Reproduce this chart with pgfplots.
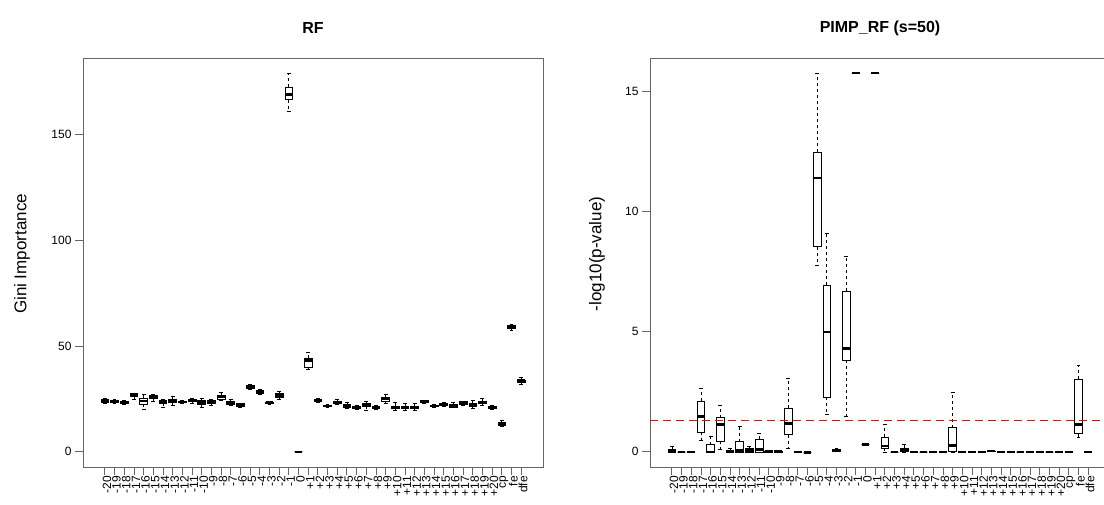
\documentclass[border=0pt]{standalone}
\usepackage{fontspec}
\setmainfont{Liberation Sans}
\usepackage{pgfplots}
\pgfplotsset{compat=1.18}
\usepgfplotslibrary{statistics}

\definecolor{framegray}{gray}{0.4}

\pgfplotsset{
  bplt/.style={black, line width=0.7pt, solid,
    boxplot/draw direction=y,
    boxplot/box extend=0.8,
    boxplot/whisker extend=0.4,
    boxplot/every median/.style={line width=2.6pt},
    boxplot/draw/whisker/.code 2 args={
      \draw[black, line width=0.7pt, dash pattern=on 3pt off 3pt]
        (boxplot cs:##1) -- (boxplot cs:##2);
      \draw[black, line width=0.7pt]
        (boxplot whisker cs:##2,0) -- (boxplot whisker cs:##2,1);
    },
  },
  panel/.style={
    scale only axis, width=460pt, height=409pt, anchor=south west,
    xmin=-1.26, xmax=46.26,
    axis line style={framegray, line width=0.8pt},
    tick style={framegray, line width=0.8pt},
    tick align=outside, major tick length=8pt,
    xtick pos=bottom, ytick pos=left,
    xtick={1,...,44},
    xticklabels={-20,-19,-18,-17,-16,-15,-14,-13,-12,-11,-10,-9,-8,-7,-6,-5,-4,-3,-2,-1,0,+1,+2,+3,+4,+5,+6,+7,+8,+9,+10,+11,+12,+13,+14,+15,+16,+17,+18,+19,+20,cp,fe,dfe},
    x tick label style={rotate=90, anchor=east, font=\fontsize{12}{12}\selectfont, inner sep=1pt, yshift=-2pt},
    y tick label style={font=\fontsize{12}{12}\selectfont},
    /pgf/number format/assume math mode=true,
  },
}

% draw position, median, lower quartile, upper quartile, lower whisker, upper whisker
\newcommand{\bx}[6]{\addplot[bplt, boxplot prepared={draw position=#1, median=#2,
  lower quartile=#3, upper quartile=#4, lower whisker=#5, upper whisker=#6}] coordinates {};}

\begin{document}
\begin{tikzpicture}[x=1pt,y=1pt]
\path[use as bounding box] (0,0) rectangle (1104,504);

% ---- RF ----
\begin{axis}[panel, at={(83pt,37pt)}, ymin=-7.16, ymax=186.06, ytick={0,50,100,150}]
\bx{1}{24.3}{23.6}{24.8}{23.0}{25.2}
\bx{2}{24.0}{23.4}{24.5}{22.8}{24.9}
\bx{3}{23.6}{23.1}{24.0}{22.6}{24.4}
\bx{4}{26.9}{26.3}{27.4}{25.0}{27.8}
\bx{5}{24.0}{22.5}{25.5}{20.2}{27.0}
\bx{6}{26.2}{25.3}{26.9}{24.0}{27.3}
\bx{7}{23.5}{23.0}{24.2}{21.0}{25.0}
\bx{8}{24.2}{23.3}{25.0}{22.2}{26.2}
\bx{9}{23.6}{23.2}{24.0}{22.8}{24.4}
\bx{10}{24.3}{23.8}{24.7}{23.0}{25.3}
\bx{11}{23.3}{22.6}{24.1}{20.9}{25.5}
\bx{12}{23.6}{22.9}{24.1}{22.2}{24.8}
\bx{13}{26.0}{25.0}{26.8}{24.4}{28.0}
\bx{14}{23.2}{22.6}{23.9}{22.0}{24.6}
\bx{15}{22.2}{21.7}{22.7}{21.2}{23.0}
\bx{16}{30.6}{30.0}{31.2}{29.4}{31.9}
\bx{17}{28.4}{27.6}{29.0}{27.0}{29.5}
\bx{18}{23.2}{22.8}{23.6}{22.4}{23.9}
\bx{19}{26.6}{25.8}{27.4}{24.8}{28.5}
\bx{20}{168.7}{166.3}{172.3}{160.8}{178.9}
\bx{21}{0}{0}{0}{0}{0}
\bx{22}{43.2}{39.8}{44.4}{39.0}{47.0}
\bx{23}{24.5}{23.9}{25.0}{23.4}{25.4}
\bx{24}{21.7}{21.3}{22.1}{20.9}{22.4}
\bx{25}{23.4}{22.9}{23.8}{22.4}{25.0}
\bx{26}{21.8}{21.0}{22.6}{20.6}{23.2}
\bx{27}{21.1}{20.7}{21.5}{20.3}{22.0}
\bx{28}{22.3}{21.5}{23.0}{19.8}{24.0}
\bx{29}{21.1}{20.7}{21.5}{20.3}{21.8}
\bx{30}{25.0}{24.0}{25.8}{22.8}{27.0}
\bx{31}{21.1}{20.7}{21.5}{19.7}{23.5}
\bx{32}{21.0}{20.6}{21.5}{19.5}{23.0}
\bx{33}{21.1}{20.7}{21.6}{19.5}{23.0}
\bx{34}{23.7}{23.2}{24.1}{22.8}{24.5}
\bx{35}{21.7}{21.3}{22.0}{21.0}{22.3}
\bx{36}{22.5}{22.0}{23.0}{21.5}{23.4}
\bx{37}{21.8}{21.2}{22.4}{20.8}{23.3}
\bx{38}{23.2}{22.3}{23.7}{21.8}{24.0}
\bx{39}{22.0}{21.5}{23.0}{20.6}{24.3}
\bx{40}{23.4}{22.9}{23.8}{22.1}{25.1}
\bx{41}{21.0}{20.6}{21.3}{20.0}{21.8}
\bx{42}{13.0}{12.4}{14.0}{12.0}{14.8}
\bx{43}{58.8}{58.2}{59.6}{57.6}{60.0}
\bx{44}{33.6}{33.0}{34.0}{31.9}{35.0}
\end{axis}

% ---- PIMP_RF ----
\begin{axis}[panel, at={(650pt,37pt)}, ymin=-0.63, ymax=16.39, ytick={0,5,10,15}]
\bx{1}{0.02}{0}{0.1}{0}{0.22}
\bx{2}{0}{0}{0}{0}{0}
\bx{3}{0}{0}{0}{0}{0}
\bx{4}{1.46}{0.83}{2.11}{0.47}{2.64}
\bx{5}{0}{0}{0.3}{0}{0.64}
\bx{6}{1.14}{0.45}{1.42}{0.1}{1.93}
\bx{7}{0.02}{0}{0.05}{0}{0.14}
\bx{8}{0.05}{0}{0.43}{0}{1.07}
\bx{9}{0.05}{0}{0.14}{0}{0.24}
\bx{10}{0.1}{0}{0.52}{0}{0.79}
\bx{11}{0.02}{0}{0.03}{0}{0.04}
\bx{12}{0.02}{0}{0.03}{0}{0.04}
\bx{13}{1.18}{0.72}{1.83}{0.14}{3.04}
\bx{14}{0}{0}{0}{0}{0}
\bx{15}{-0.02}{-0.02}{-0.02}{-0.02}{-0.02}
\bx{16}{11.4}{8.54}{12.46}{7.76}{15.76}
\bx{17}{4.99}{2.28}{6.93}{1.56}{9.1}
\bx{18}{0.08}{0.04}{0.12}{0.02}{0.15}
\bx{19}{4.3}{3.82}{6.70}{1.49}{8.13}
\bx{20}{15.76}{15.76}{15.76}{15.76}{15.76}
\bx{21}{0.3}{0.3}{0.3}{0.3}{0.3}
\bx{22}{15.76}{15.76}{15.76}{15.76}{15.76}
\bx{23}{0.24}{0.14}{0.6}{0}{1.14}
\bx{24}{0}{0}{0}{0}{0}
\bx{25}{0.09}{0.02}{0.16}{0}{0.3}
\bx{26}{0}{0}{0}{0}{0}
\bx{27}{0}{0}{0}{0}{0}
\bx{28}{0}{0}{0}{0}{0}
\bx{29}{0}{0}{0}{0}{0}
\bx{30}{0.26}{0.03}{1.0}{0}{2.46}
\bx{31}{0}{0}{0}{0}{0}
\bx{32}{0}{0}{0}{0}{0}
\bx{33}{0}{0}{0}{0}{0}
\bx{34}{0.03}{0.02}{0.04}{0.02}{0.04}
\bx{35}{0}{0}{0}{0}{0}
\bx{36}{0}{0}{0}{0}{0}
\bx{37}{0}{0}{0}{0}{0}
\bx{38}{0}{0}{0}{0}{0}
\bx{39}{0}{0}{0}{0}{0}
\bx{40}{0}{0}{0}{0}{0}
\bx{41}{0}{0}{0}{0}{0}
\bx{42}{0}{0}{0}{0}{0}
\bx{43}{1.14}{0.75}{3.02}{0.61}{3.59}
\bx{44}{0}{0}{0}{0}{0}
\addplot[red, line width=1.6pt, dash pattern=on 8pt off 5pt] coordinates {(-1.26,1.301) (46.26,1.301)};
\end{axis}

% titles and axis labels
\node[font=\fontsize{16}{16}\selectfont\bfseries] at (313,476) {RF};
\node[font=\fontsize{16}{16}\selectfont\bfseries] at (880,476) {PIMP\_RF (s=50)};
\node[rotate=90, font=\fontsize{17}{17}\selectfont] at (22,250) {Gini Importance};
\node[rotate=90, font=\fontsize{17}{17}\selectfont] at (597,250) {-log10(p-value)};
\end{tikzpicture}
\end{document}
